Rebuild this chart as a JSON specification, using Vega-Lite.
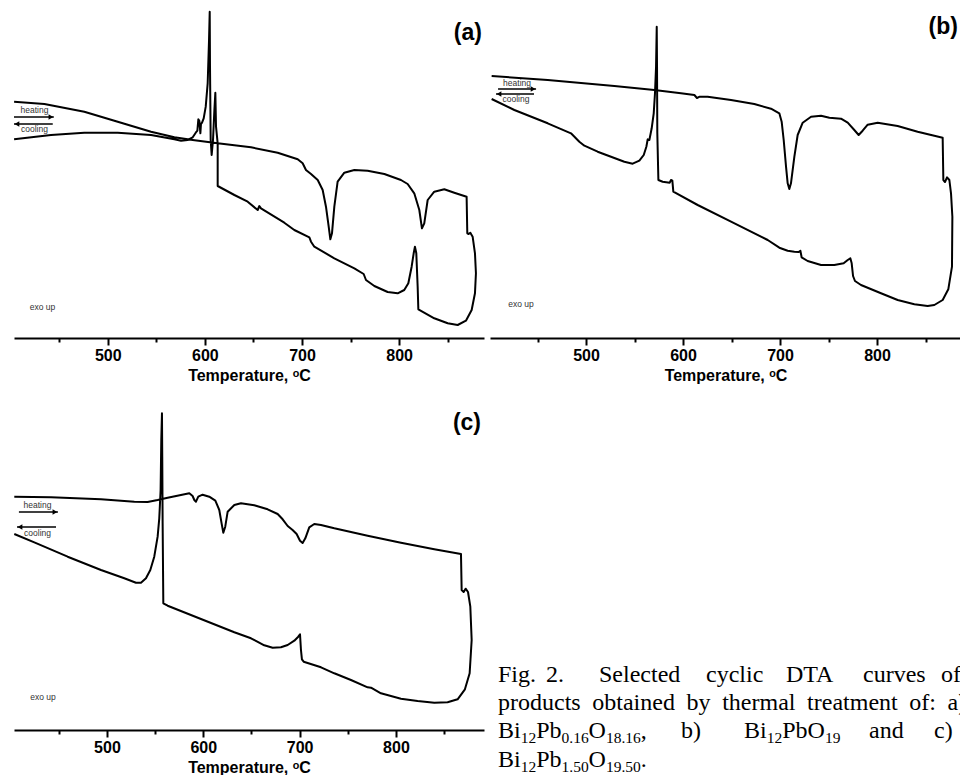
{
  "$schema": "https://vega.github.io/schema/vega-lite/v6.json",
  "background": "white",
  "padding": {"left": 13, "top": 0, "right": 0, "bottom": 0},
  "autosize": {"type": "pad"},
  "columns": 2,
  "spacing": {"row": 52, "column": 6},
  "bounds": "flush",
  "align": "each",
  "config": {"view": {"stroke": null}, "font": "Liberation Sans"},
  "datasets": {
    "curveA": [
      {"i":1,"t":403.6,"v":236.3},{"i":2,"t":434.8,"v":234},{"i":3,"t":475.9,"v":226.3},{"i":4,"t":510.3,"v":216.3},{"i":5,"t":544.6,"v":206.3},{"i":6,"t":568.6,"v":200.7},{"i":7,"t":587.5,"v":198},{"i":8,"t":613.2,"v":194.7},{"i":9,"t":647.5,"v":190.7},{"i":10,"t":675.0,"v":185.3},
      {"i":11,"t":695.6,"v":178.7},{"i":12,"t":700.7,"v":174.7},{"i":13,"t":704.1,"v":168},{"i":14,"t":709.3,"v":164},{"i":15,"t":716.2,"v":158},{"i":16,"t":721.3,"v":148},{"i":17,"t":724.7,"v":131.3},{"i":18,"t":727.5,"v":111.3},{"i":19,"t":729.2,"v":98.7},{"i":20,"t":730.9,"v":104.7},
      {"i":21,"t":733.3,"v":131.3},{"i":22,"t":736.7,"v":156.3},{"i":23,"t":743.6,"v":165.3},{"i":24,"t":753.9,"v":168},{"i":25,"t":767.6,"v":167.3},{"i":26,"t":784.8,"v":164},{"i":27,"t":801.9,"v":158},{"i":28,"t":808.8,"v":154},{"i":29,"t":815.6,"v":144.7},{"i":30,"t":820.8,"v":128},
      {"i":31,"t":823.5,"v":109.7},{"i":32,"t":825.9,"v":114.7},{"i":33,"t":829.4,"v":138},{"i":34,"t":836.2,"v":146.3},{"i":35,"t":846.5,"v":148.7},{"i":36,"t":856.8,"v":145.3},{"i":37,"t":869.5,"v":141.3},{"i":38,"t":870.2,"v":104.7},{"i":39,"t":871.6,"v":104},{"i":40,"t":873.3,"v":105.3},
      {"i":41,"t":875.7,"v":101.3},{"i":42,"t":878.1,"v":84.7},{"i":43,"t":879.1,"v":64.7},{"i":44,"t":878.1,"v":44.7},{"i":45,"t":874.7,"v":28},{"i":46,"t":868.8,"v":17.3},{"i":47,"t":860.3,"v":13},{"i":48,"t":850.0,"v":14.7},{"i":49,"t":836.2,"v":19.7},{"i":50,"t":819.8,"v":28.7},
      {"i":51,"t":819.1,"v":51.3},{"i":52,"t":817.7,"v":84.7},{"i":53,"t":816.3,"v":91.3},{"i":54,"t":815.0,"v":84.7},{"i":55,"t":812.9,"v":71.3},{"i":56,"t":809.5,"v":54.7},{"i":57,"t":805.3,"v":48},{"i":58,"t":798.5,"v":44.7},{"i":59,"t":788.2,"v":46},{"i":60,"t":774.5,"v":52},
      {"i":61,"t":765.9,"v":58},{"i":62,"t":763.5,"v":64},{"i":63,"t":753.9,"v":69.7},{"i":64,"t":733.3,"v":79.7},{"i":65,"t":712.7,"v":91.3},{"i":66,"t":709.3,"v":96.3},{"i":67,"t":707.6,"v":100.7},{"i":68,"t":692.1,"v":108},{"i":69,"t":681.8,"v":115.3},{"i":70,"t":657.8,"v":129.7},
      {"i":71,"t":656.1,"v":132},{"i":72,"t":654.4,"v":128},{"i":73,"t":644.1,"v":136.3},{"i":74,"t":630.4,"v":143},{"i":75,"t":613.2,"v":152},{"i":76,"t":613.2,"v":194.7},{"i":77,"t":611.5,"v":211.3},{"i":78,"t":610.8,"v":245.3},{"i":79,"t":609.8,"v":228},{"i":80,"t":608.4,"v":198},
      {"i":81,"t":607.0,"v":183},{"i":82,"t":606.0,"v":198},{"i":83,"t":605.3,"v":271.3},{"i":84,"t":605.0,"v":326.3},{"i":85,"t":604.3,"v":298},{"i":86,"t":602.9,"v":254.7},{"i":87,"t":600.9,"v":231.3},{"i":88,"t":598.8,"v":219.7},{"i":89,"t":597.1,"v":215.3},{"i":90,"t":596.0,"v":214},
      {"i":91,"t":595.4,"v":204.7},{"i":92,"t":594.3,"v":217.3},{"i":93,"t":593.3,"v":218.7},{"i":94,"t":592.3,"v":207.3},{"i":95,"t":590.6,"v":205.3},{"i":96,"t":587.5,"v":200.7},{"i":97,"t":582.3,"v":198},{"i":98,"t":575.5,"v":197.3},{"i":99,"t":568.6,"v":198.7},{"i":100,"t":544.6,"v":203},
      {"i":101,"t":510.3,"v":205.3},{"i":102,"t":475.9,"v":205.3},{"i":103,"t":441.6,"v":203},{"i":104,"t":403.6,"v":198.7}
    ],
    "curveB": [
      {"i":1,"t":402.7,"v":262},{"i":2,"t":460.5,"v":258},{"i":3,"t":529.2,"v":252},{"i":4,"t":570.4,"v":248},{"i":5,"t":597.9,"v":244.7},{"i":6,"t":611.7,"v":243},{"i":7,"t":614.4,"v":240},{"i":8,"t":617.2,"v":241.3},{"i":9,"t":625.4,"v":241.3},{"i":10,"t":649.5,"v":238},
      {"i":11,"t":673.5,"v":234},{"i":12,"t":690.7,"v":229.3},{"i":13,"t":699.3,"v":224.7},{"i":14,"t":701.7,"v":216.3},{"i":15,"t":703.8,"v":198},{"i":16,"t":706.2,"v":171.3},{"i":17,"t":707.9,"v":154.7},{"i":18,"t":709.6,"v":149},{"i":19,"t":711.3,"v":154.7},{"i":20,"t":714.8,"v":181.3},
      {"i":21,"t":718.2,"v":203},{"i":22,"t":723.4,"v":215.3},{"i":23,"t":732.0,"v":221.3},{"i":24,"t":742.3,"v":222.3},{"i":25,"t":750.9,"v":220.3},{"i":26,"t":762.9,"v":219.3},{"i":27,"t":769.8,"v":215.3},{"i":28,"t":776.6,"v":208},{"i":29,"t":781.1,"v":203},{"i":30,"t":785.2,"v":207.3},
      {"i":31,"t":790.4,"v":213.3},{"i":32,"t":800.7,"v":215.3},{"i":33,"t":821.3,"v":212},{"i":34,"t":841.9,"v":206.3},{"i":35,"t":867.7,"v":200.3},{"i":36,"t":868.4,"v":158},{"i":37,"t":870.1,"v":156},{"i":38,"t":872.2,"v":160.7},{"i":39,"t":874.6,"v":158},{"i":40,"t":876.3,"v":144.7},
      {"i":41,"t":877.7,"v":121.3},{"i":42,"t":877.3,"v":71.3},{"i":43,"t":873.5,"v":48.7},{"i":44,"t":867.7,"v":38},{"i":45,"t":859.1,"v":33},{"i":46,"t":852.2,"v":32},{"i":47,"t":838.5,"v":33.7},{"i":48,"t":821.3,"v":38},{"i":49,"t":804.1,"v":44.7},{"i":50,"t":783.5,"v":53},
      {"i":51,"t":777.3,"v":57},{"i":52,"t":775.3,"v":62},{"i":53,"t":773.9,"v":74.7},{"i":54,"t":772.5,"v":79.7},{"i":55,"t":769.8,"v":78},{"i":56,"t":765.6,"v":74.7},{"i":57,"t":756.0,"v":73},{"i":58,"t":742.3,"v":73},{"i":59,"t":728.5,"v":77},{"i":60,"t":722.3,"v":80.7},
      {"i":61,"t":721.0,"v":87.3},{"i":62,"t":719.2,"v":86},{"i":63,"t":714.8,"v":86.3},{"i":64,"t":707.9,"v":87.3},{"i":65,"t":699.3,"v":90.3},{"i":66,"t":687.3,"v":98},{"i":67,"t":649.5,"v":116.3},{"i":68,"t":615.1,"v":133},{"i":69,"t":590.0,"v":146.3},{"i":70,"t":589.0,"v":157.3},
      {"i":71,"t":587.6,"v":158},{"i":72,"t":586.3,"v":155.3},{"i":73,"t":579.0,"v":156.3},{"i":74,"t":574.6,"v":158},{"i":75,"t":573.5,"v":204.7},{"i":76,"t":573.2,"v":271.3},{"i":77,"t":572.9,"v":311.3},{"i":78,"t":572.2,"v":271.3},{"i":79,"t":571.1,"v":244.7},{"i":80,"t":569.8,"v":224.7},
      {"i":81,"t":567.7,"v":209.7},{"i":82,"t":565.3,"v":198},{"i":83,"t":563.6,"v":198.7},{"i":84,"t":562.2,"v":191.3},{"i":85,"t":559.5,"v":183},{"i":86,"t":555.0,"v":177.3},{"i":87,"t":548.1,"v":174.3},{"i":88,"t":539.5,"v":176.3},{"i":89,"t":529.2,"v":180},{"i":90,"t":512.0,"v":186.3},
      {"i":91,"t":498.3,"v":192.3},{"i":92,"t":493.1,"v":196.3},{"i":93,"t":484.5,"v":204.7},{"i":94,"t":460.5,"v":214.7},{"i":95,"t":426.1,"v":228},{"i":96,"t":402.7,"v":239}
    ],
    "curveC": [
      {"i":1,"t":403.8,"v":233.3},{"i":2,"t":441.9,"v":232.7},{"i":3,"t":493.8,"v":230.7},{"i":4,"t":528.4,"v":228.3},{"i":5,"t":542.2,"v":228},{"i":6,"t":552.6,"v":230},{"i":7,"t":563.0,"v":232.3},{"i":8,"t":576.8,"v":235},{"i":9,"t":585.5,"v":236.7},{"i":10,"t":588.9,"v":234},
      {"i":11,"t":590.7,"v":230},{"i":12,"t":592.4,"v":228.3},{"i":13,"t":594.8,"v":233.3},{"i":14,"t":599.3,"v":235.3},{"i":15,"t":606.2,"v":233.3},{"i":16,"t":612.5,"v":229.3},{"i":17,"t":616.6,"v":220},{"i":18,"t":619.0,"v":206.7},{"i":19,"t":620.8,"v":197.3},{"i":20,"t":622.8,"v":203.3},
      {"i":21,"t":625.3,"v":218.3},{"i":22,"t":632.2,"v":225},{"i":23,"t":639.1,"v":226.7},{"i":24,"t":652.9,"v":224.7},{"i":25,"t":666.8,"v":220.7},{"i":26,"t":677.2,"v":216},{"i":27,"t":682.4,"v":210.7},{"i":28,"t":687.6,"v":204},{"i":29,"t":692.7,"v":200},{"i":30,"t":696.9,"v":196},
      {"i":31,"t":700.4,"v":189.3},{"i":32,"t":703.1,"v":187},{"i":33,"t":705.9,"v":191.7},{"i":34,"t":710.0,"v":202.7},{"i":35,"t":715.2,"v":206},{"i":36,"t":722.2,"v":205},{"i":37,"t":736.0,"v":201.7},{"i":38,"t":770.6,"v":194.3},{"i":39,"t":805.2,"v":187.3},{"i":40,"t":839.8,"v":180.7},
      {"i":41,"t":867.5,"v":176},{"i":42,"t":868.2,"v":140},{"i":43,"t":870.3,"v":138},{"i":44,"t":872.3,"v":141.3},{"i":45,"t":874.8,"v":138},{"i":46,"t":877.2,"v":123.3},{"i":47,"t":878.6,"v":90},{"i":48,"t":876.5,"v":56.7},{"i":49,"t":871.6,"v":40.7},{"i":50,"t":864.0,"v":30.7},
      {"i":51,"t":853.6,"v":27.7},{"i":52,"t":839.8,"v":27.3},{"i":53,"t":822.5,"v":29},{"i":54,"t":805.2,"v":31.3},{"i":55,"t":784.4,"v":36.7},{"i":56,"t":774.1,"v":42.3},{"i":57,"t":770.6,"v":42.7},{"i":58,"t":753.3,"v":50},{"i":59,"t":736.0,"v":56.7},{"i":60,"t":722.2,"v":62.7},
      {"i":61,"t":704.2,"v":68.3},{"i":62,"t":702.4,"v":70.7},{"i":63,"t":701.4,"v":80},{"i":64,"t":700.4,"v":95.7},{"i":65,"t":698.6,"v":93.3},{"i":66,"t":694.5,"v":89.3},{"i":67,"t":687.6,"v":85},{"i":68,"t":680.6,"v":82.7},{"i":69,"t":672.0,"v":82.3},{"i":70,"t":663.3,"v":84.7},
      {"i":71,"t":649.5,"v":91.7},{"i":72,"t":632.2,"v":97.7},{"i":73,"t":597.6,"v":111},{"i":74,"t":563.0,"v":124.3},{"i":75,"t":558.5,"v":126.7},{"i":76,"t":557.8,"v":206.7},{"i":77,"t":557.4,"v":273.3},{"i":78,"t":557.1,"v":316.7},{"i":79,"t":556.4,"v":290},{"i":80,"t":555.7,"v":240},
      {"i":81,"t":554.3,"v":211.7},{"i":82,"t":552.6,"v":193.3},{"i":83,"t":549.1,"v":173.3},{"i":84,"t":545.0,"v":160},{"i":85,"t":540.5,"v":151.7},{"i":86,"t":535.3,"v":147.3},{"i":87,"t":530.1,"v":147.3},{"i":88,"t":518.0,"v":151.7},{"i":89,"t":493.8,"v":160},{"i":90,"t":459.2,"v":173.3},
      {"i":91,"t":424.6,"v":187.7},{"i":92,"t":403.8,"v":196}
    ]
  },
  "concat": [
    {
      "width": 470, "height": 338,
      "layer": [
        {"data": {"name": "curveA"}, "mark": {"type": "line", "color": "black", "strokeWidth": 2, "strokeJoin": "round"},
         "encoding": {
           "x": {"field": "t", "type": "quantitative", "scale": {"domain": [403.5, 887.4], "nice": false, "zero": false},
                 "axis": {"values": [450,500,550,600,650,700,750,800,850], "labelExpr": "datum.value % 100 === 0 ? datum.label : ''", "format": "d",
                          "tickSize": {"condition": {"test": "datum.value % 100 === 0", "value": 7}, "value": 4},
                          "grid": false, "domainColor": "black", "domainWidth": 2, "tickColor": "black", "tickWidth": 2,
                          "labelFont": "Liberation Sans", "labelFontSize": 16, "labelFontWeight": "bold", "labelColor": "black", "labelPadding": 2,
                          "title": "Temperature, ᵒC", "titleFont": "Liberation Sans", "titleFontSize": 16, "titleFontWeight": "bold", "titleColor": "black", "titlePadding": 4}},
           "y": {"field": "v", "type": "quantitative", "scale": {"domain": [0, 338], "nice": false, "zero": false}, "axis": null},
           "order": {"field": "i", "type": "quantitative"}}},
        {"data": {"values": [{"t": 403.5, "t2": 444.5, "v": 221}, {"t": 403.5, "t2": 443.4, "v": 214}]},
         "mark": {"type": "rule", "color": "black", "strokeWidth": 1.3},
         "encoding": {"x": {"field": "t", "type": "quantitative"}, "x2": {"field": "t2"}, "y": {"field": "v", "type": "quantitative"}}},
        {"data": {"values": [{"t": 441.5, "v": 221, "dir": "right"}, {"t": 406.5, "v": 214, "dir": "left"}]},
         "mark": {"type": "point", "filled": true, "color": "black", "size": 30, "opacity": 1},
         "encoding": {"x": {"field": "t", "type": "quantitative"}, "y": {"field": "v", "type": "quantitative"},
                      "shape": {"field": "dir", "type": "nominal", "scale": {"domain": ["right", "left"], "range": ["triangle-right", "triangle-left"]}, "legend": null}}},
        {"data": {"values": [{"t": 424.6, "v": 228, "label": "heating"}, {"t": 424.6, "v": 209, "label": "cooling"}, {"t": 432.9, "v": 31, "label": "exo up"}]},
         "mark": {"type": "text", "fontSize": 8.5, "font": "Liberation Sans", "color": "#333", "baseline": "middle"},
         "encoding": {"x": {"field": "t", "type": "quantitative"}, "y": {"field": "v", "type": "quantitative"}, "text": {"field": "label"}}},
        {"data": {"values": [{"t": 885.3, "v": 305, "label": "(a)"}]},
         "mark": {"type": "text", "fontSize": 23, "fontWeight": "bold", "font": "Liberation Sans", "color": "black", "align": "right", "baseline": "middle"},
         "encoding": {"x": {"field": "t", "type": "quantitative"}, "y": {"field": "v", "type": "quantitative"}, "text": {"field": "label"}}}
      ]
    },
    {
      "width": 471, "height": 338,
      "layer": [
        {"data": {"name": "curveB"}, "mark": {"type": "line", "color": "black", "strokeWidth": 2, "strokeJoin": "round"},
         "encoding": {
           "x": {"field": "t", "type": "quantitative", "scale": {"domain": [401, 886.6], "nice": false, "zero": false},
                 "axis": {"values": [450,500,550,600,650,700,750,800,850], "labelExpr": "datum.value % 100 === 0 ? datum.label : ''", "format": "d",
                          "tickSize": {"condition": {"test": "datum.value % 100 === 0", "value": 7}, "value": 4},
                          "grid": false, "domainColor": "black", "domainWidth": 2, "tickColor": "black", "tickWidth": 2,
                          "labelFont": "Liberation Sans", "labelFontSize": 16, "labelFontWeight": "bold", "labelColor": "black", "labelPadding": 2,
                          "title": "Temperature, ᵒC", "titleFont": "Liberation Sans", "titleFontSize": 16, "titleFontWeight": "bold", "titleColor": "black", "titlePadding": 4}},
           "y": {"field": "v", "type": "quantitative", "scale": {"domain": [0, 338], "nice": false, "zero": false}, "axis": null},
           "order": {"field": "i", "type": "quantitative"}}},
        {"data": {"values": [{"t": 409.3, "t2": 448.5, "v": 249}, {"t": 407.2, "t2": 446.4, "v": 244}]},
         "mark": {"type": "rule", "color": "black", "strokeWidth": 1.3},
         "encoding": {"x": {"field": "t", "type": "quantitative"}, "x2": {"field": "t2"}, "y": {"field": "v", "type": "quantitative"}}},
        {"data": {"values": [{"t": 445.4, "v": 249, "dir": "right"}, {"t": 410.3, "v": 244, "dir": "left"}]},
         "mark": {"type": "point", "filled": true, "color": "black", "size": 30, "opacity": 1},
         "encoding": {"x": {"field": "t", "type": "quantitative"}, "y": {"field": "v", "type": "quantitative"},
                      "shape": {"field": "dir", "type": "nominal", "scale": {"domain": ["right", "left"], "range": ["triangle-right", "triangle-left"]}, "legend": null}}},
        {"data": {"values": [{"t": 428.9, "v": 255, "label": "heating"}, {"t": 427.8, "v": 239, "label": "cooling"}, {"t": 433.0, "v": 34, "label": "exo up"}]},
         "mark": {"type": "text", "fontSize": 8.5, "font": "Liberation Sans", "color": "#333", "baseline": "middle"},
         "encoding": {"x": {"field": "t", "type": "quantitative"}, "y": {"field": "v", "type": "quantitative"}, "text": {"field": "label"}}},
        {"data": {"values": [{"t": 883.5, "v": 311, "label": "(b)"}]},
         "mark": {"type": "text", "fontSize": 23, "fontWeight": "bold", "font": "Liberation Sans", "color": "black", "align": "right", "baseline": "middle"},
         "encoding": {"x": {"field": "t", "type": "quantitative"}, "y": {"field": "v", "type": "quantitative"}, "text": {"field": "label"}}}
      ]
    },
    {
      "width": 470, "height": 340,
      "layer": [
        {"data": {"name": "curveC"}, "mark": {"type": "line", "color": "black", "strokeWidth": 2, "strokeJoin": "round"},
         "encoding": {
           "x": {"field": "t", "type": "quantitative", "scale": {"domain": [403.5, 891.4], "nice": false, "zero": false},
                 "axis": {"values": [450,500,550,600,650,700,750,800,850], "labelExpr": "datum.value % 100 === 0 ? datum.label : ''", "format": "d",
                          "tickSize": {"condition": {"test": "datum.value % 100 === 0", "value": 7}, "value": 4},
                          "grid": false, "domainColor": "black", "domainWidth": 2, "tickColor": "black", "tickWidth": 2,
                          "labelFont": "Liberation Sans", "labelFontSize": 16, "labelFontWeight": "bold", "labelColor": "black", "labelPadding": 2,
                          "title": "Temperature, ᵒC", "titleFont": "Liberation Sans", "titleFontSize": 16, "titleFontWeight": "bold", "titleColor": "black", "titlePadding": 4}},
           "y": {"field": "v", "type": "quantitative", "scale": {"domain": [0, 340], "nice": false, "zero": false}, "axis": null},
           "order": {"field": "i", "type": "quantitative"}}},
        {"data": {"values": [{"t": 408.6, "t2": 449.1, "v": 218}, {"t": 406.6, "t2": 447.1, "v": 203}]},
         "mark": {"type": "rule", "color": "black", "strokeWidth": 1.3},
         "encoding": {"x": {"field": "t", "type": "quantitative"}, "x2": {"field": "t2"}, "y": {"field": "v", "type": "quantitative"}}},
        {"data": {"values": [{"t": 446.0, "v": 218, "dir": "right"}, {"t": 409.7, "v": 203, "dir": "left"}]},
         "mark": {"type": "point", "filled": true, "color": "black", "size": 30, "opacity": 1},
         "encoding": {"x": {"field": "t", "type": "quantitative"}, "y": {"field": "v", "type": "quantitative"},
                      "shape": {"field": "dir", "type": "nominal", "scale": {"domain": ["right", "left"], "range": ["triangle-right", "triangle-left"]}, "legend": null}}},
        {"data": {"values": [{"t": 427.9, "v": 225, "label": "heating"}, {"t": 427.9, "v": 197, "label": "cooling"}, {"t": 433.6, "v": 33, "label": "exo up"}]},
         "mark": {"type": "text", "fontSize": 8.5, "font": "Liberation Sans", "color": "#333", "baseline": "middle"},
         "encoding": {"x": {"field": "t", "type": "quantitative"}, "y": {"field": "v", "type": "quantitative"}, "text": {"field": "label"}}},
        {"data": {"values": [{"t": 888.3, "v": 307, "label": "(c)"}]},
         "mark": {"type": "text", "fontSize": 23, "fontWeight": "bold", "font": "Liberation Sans", "color": "black", "align": "right", "baseline": "middle"},
         "encoding": {"x": {"field": "t", "type": "quantitative"}, "y": {"field": "v", "type": "quantitative"}, "text": {"field": "label"}}}
      ]
    },
    {
      "width": 471, "height": 385,
      "layer": [
        {"data": {"values": [
           {"x": 8, "y": 292, "text": "Fig."}, {"x": 56, "y": 292, "text": "2."}, {"x": 109, "y": 292, "text": "Selected"}, {"x": 216, "y": 292, "text": "cyclic"}, {"x": 296, "y": 292, "text": "DTA"}, {"x": 373, "y": 292, "text": "curves"}, {"x": 451, "y": 292, "text": "of"},
           {"x": 8, "y": 320, "text": "products"}, {"x": 102.3, "y": 320, "text": "obtained"}, {"x": 196.6, "y": 320, "text": "by"}, {"x": 232.2, "y": 320, "text": "thermal"}, {"x": 317.1, "y": 320, "text": "treatment"}, {"x": 419.3, "y": 320, "text": "of:"}, {"x": 457.6, "y": 320, "text": "a)"},
           {"x": 8, "y": 348, "text": "Bi"}, {"x": 46.2, "y": 348, "text": "Pb"}, {"x": 98.6, "y": 348, "text": "O"}, {"x": 150.8, "y": 348, "text": ","}, {"x": 191, "y": 348, "text": "b)"}, {"x": 254, "y": 348, "text": "Bi"}, {"x": 292.2, "y": 348, "text": "PbO"}, {"x": 379, "y": 348, "text": "and"}, {"x": 444, "y": 348, "text": "c)"},
           {"x": 8, "y": 377, "text": "Bi"}, {"x": 46.2, "y": 377, "text": "Pb"}, {"x": 98.6, "y": 377, "text": "O"}, {"x": 150.8, "y": 377, "text": "."}
         ]},
         "mark": {"type": "text", "font": "Liberation Serif", "fontSize": 24, "align": "left", "baseline": "alphabetic", "color": "black", "clip": true},
         "encoding": {
           "x": {"field": "x", "type": "quantitative", "scale": {"domain": [0, 471], "nice": false, "zero": false}, "axis": null},
           "y": {"field": "y", "type": "quantitative", "scale": {"domain": [0, 385], "nice": false, "zero": false, "reverse": true}, "axis": null},
           "text": {"field": "text"}}},
        {"data": {"values": [
           {"x": 30.7, "y": 353, "text": "12"}, {"x": 71.5, "y": 353, "text": "0.16"}, {"x": 115.9, "y": 353, "text": "18.16"}, {"x": 276.7, "y": 353, "text": "12"}, {"x": 334.9, "y": 353, "text": "19"},
           {"x": 30.7, "y": 382, "text": "12"}, {"x": 71.5, "y": 382, "text": "1.50"}, {"x": 115.9, "y": 382, "text": "19.50"}
         ]},
         "mark": {"type": "text", "font": "Liberation Serif", "fontSize": 15.5, "align": "left", "baseline": "alphabetic", "color": "black", "clip": true},
         "encoding": {
           "x": {"field": "x", "type": "quantitative"},
           "y": {"field": "y", "type": "quantitative"},
           "text": {"field": "text"}}}
      ]
    }
  ]
}
